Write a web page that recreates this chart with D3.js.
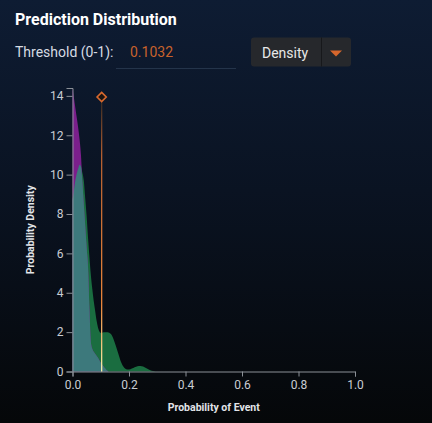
<!DOCTYPE html>
<html>
<head>
<meta charset="utf-8">
<script src="https://cdn.jsdelivr.net/npm/d3@7"></script>
<style>
  html, body { margin: 0; padding: 0; background: #050709; }
  svg { display: block; font-family: Roboto, "Noto Sans", sans-serif; }
</style>
</head>
<body>
<svg id="chart" width="432" height="423"></svg>
<script>
// ---- data ----
const probGrid = [0, .005, .01, .015, .02, .025, .03, .035, .04, .045, .05, .055, .06, .065, .07, .075, .08, .085, .09, .095,
  .10, .105, .11, .115, .12, .125, .13, .135, .14, .145, .15, .16, .17, .18, .19, .20, .21, .22, .23, .24, .25, .26, .27, .28, .29, .30];
const densityNegative = [14.4, 13.9, 13.4, 12.9, 12.4, 11.8, 11.0, 9.6, 8.5, 7.4, 6.3, 5.3, 3.2, 1.5, 1.15, 1.0, 0.9, 0.8, 0.7, 0.57,
  0.45, 0.35, 0.25, 0.16, 0.08, 0.03, 0, 0, 0, 0, 0, 0, 0, 0, 0, 0, 0, 0, 0, 0, 0, 0, 0, 0, 0, 0];
const densityPositive = [8.7, 9.2, 9.7, 10.05, 10.3, 10.5, 10.4, 10.1, 9.7, 8.8, 7.9, 6.8, 5.8, 4.9, 4.2, 3.6, 3.1, 2.6, 2.25, 2.05,
  1.97, 1.97, 1.99, 2.0, 2.0, 1.99, 1.97, 1.92, 1.82, 1.65, 1.45, 1.0, 0.55, 0.25, 0.12, 0.1, 0.15, 0.22, 0.27, 0.28, 0.25, 0.18, 0.1, 0.04, 0.01, 0];
const threshold = 0.1032;
const xTicks = [0, 0.2, 0.4, 0.6, 0.8, 1.0];
const yTicks = [0, 2, 4, 6, 8, 10, 12, 14];
const yMax = 14.4;
const titleText = "Prediction Distribution";
const thresholdLabel = "Threshold (0-1):";
const modeLabel = "Density";
const xLabel = "Probability of Event";
const yLabel = "Probability Density";

// ---- drawing ----
const svg = d3.select("#chart");
const defs = svg.append("defs");

const bg = defs.append("linearGradient").attr("id", "bg").attr("x1", 0).attr("y1", 0).attr("x2", 0).attr("y2", 1);
bg.append("stop").attr("offset", "0%").attr("stop-color", "#0e1c33");
bg.append("stop").attr("offset", "45%").attr("stop-color", "#0a1322");
bg.append("stop").attr("offset", "100%").attr("stop-color", "#050709");
svg.append("rect").attr("width", 432).attr("height", 423).attr("fill", "url(#bg)");

// header
svg.append("text").attr("x", 15).attr("y", 25).attr("fill", "#ffffff")
  .attr("font-size", 16).attr("font-weight", 700).text(titleText);
svg.append("text").attr("x", 15).attr("y", 57).attr("fill", "#d6dbe3")
  .attr("font-size", 14).text(thresholdLabel);
svg.append("text").attr("x", 130).attr("y", 57).attr("fill", "#c8622c")
  .attr("font-size", 14).text(d3.format(".4f")(threshold));
svg.append("line").attr("x1", 116).attr("x2", 236).attr("y1", 68.5).attr("y2", 68.5)
  .attr("stroke", "#24344a").attr("stroke-width", 1);

// dropdown
svg.append("rect").attr("x", 251).attr("y", 37.5).attr("width", 100).attr("height", 29).attr("rx", 3)
  .attr("fill", "#26282c");
svg.append("line").attr("x1", 321.5).attr("x2", 321.5).attr("y1", 37.5).attr("y2", 66.5)
  .attr("stroke", "#17181b").attr("stroke-width", 1);
svg.append("text").attr("x", 262).attr("y", 57.5).attr("fill", "#e8e8e8")
  .attr("font-size", 14).text(modeLabel);
svg.append("path").attr("d", "M330,50.5 L342,50.5 L336,56.5 Z").attr("fill", "#d6662c");

// plot
const x = d3.scaleLinear().domain([0, 1]).range([72.5, 355]);
const y = d3.scaleLinear().domain([0, yMax]).range([371.5, 88]);

const pts = probGrid.map((p, i) => ({ p, neg: densityNegative[i], pos: densityPositive[i] }));
const curve = d3.curveMonotoneX;
const area = key => d3.area().x(d => x(d.p)).y0(y(0)).y1(d => y(key(d))).curve(curve);

svg.append("path").datum(pts).attr("d", area(d => d.pos)).attr("fill", "#1a6d40");
svg.append("path").datum(pts).attr("d", area(d => d.neg)).attr("fill", "#7b1f8c");
svg.append("path").datum(pts).attr("d", area(d => Math.min(d.neg, d.pos))).attr("fill", "#3d797c");

const axisColor = "#8b9097";
const gx = svg.append("g").attr("transform", `translate(0,${y(0)})`)
  .call(d3.axisBottom(x).tickValues(xTicks).tickFormat(d3.format(".1f")).tickSize(5).tickPadding(4));
const gy = svg.append("g").attr("transform", `translate(${x(0)},0)`)
  .call(d3.axisLeft(y).tickValues(yTicks).tickSize(6).tickPadding(3));
[gx, gy].forEach(g => {
  g.select(".domain").attr("stroke", axisColor);
  g.selectAll(".tick line").attr("stroke", axisColor);
  g.selectAll(".tick text").attr("fill", "#c9cdd3").attr("font-size", 12)
    .attr("font-family", "Roboto, 'Noto Sans', sans-serif");
});

svg.append("text").attr("x", (x(0) + x(1)) / 2).attr("y", 411).attr("text-anchor", "middle")
  .attr("fill", "#e2e4e8").attr("font-size", 10.5).attr("font-weight", 700).text(xLabel);
svg.append("text").attr("transform", `translate(34,${(y(0) + y(yMax)) / 2}) rotate(-90)`)
  .attr("text-anchor", "middle").attr("fill", "#e2e4e8").attr("font-size", 10.5).attr("font-weight", 700).text(yLabel);

// threshold marker
const tx = x(threshold);
const lineTop = 102;
const tg = defs.append("linearGradient").attr("id", "thr").attr("gradientUnits", "userSpaceOnUse")
  .attr("x1", tx).attr("y1", lineTop).attr("x2", tx).attr("y2", y(0));
tg.append("stop").attr("offset", "0%").attr("stop-color", "#3a2c24");
tg.append("stop").attr("offset", "20%").attr("stop-color", "#b45f30");
tg.append("stop").attr("offset", "75%").attr("stop-color", "#e8843a");
tg.append("stop").attr("offset", "100%").attr("stop-color", "#f6f0a8");
svg.append("line").attr("x1", tx).attr("x2", tx).attr("y1", lineTop).attr("y2", y(0))
  .attr("stroke", "url(#thr)").attr("stroke-width", 1.3);
const dSize = 4.6;
svg.append("path")
  .attr("d", `M${tx},${97 - dSize} L${tx + dSize},97 L${tx},${97 + dSize} L${tx - dSize},97 Z`)
  .attr("fill", "#1c1410").attr("stroke", "#d8692e").attr("stroke-width", 1.6);
</script>
</body>
</html>
